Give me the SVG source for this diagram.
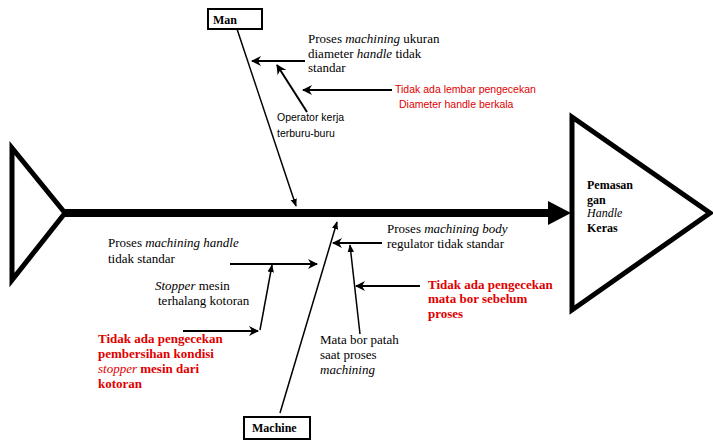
<svg xmlns="http://www.w3.org/2000/svg" width="713" height="441" viewBox="0 0 713 441">
<style>
.s{font-family:"Liberation Serif",serif;font-size:13px;fill:#000}
.ss{font-family:"Liberation Sans",sans-serif;font-size:10.5px;fill:#000}
.r{fill:#e00000}
.b{font-weight:bold}
.i{font-style:italic}
.h{font-size:12px}
.ln{stroke:#000;stroke-width:1.5;fill:none}
.ar{stroke:#000;stroke-width:2;fill:none}
.box{fill:#fff;stroke:#000;stroke-width:2}
</style>
<defs>
<marker id="ah" viewBox="0 0 10 10" refX="9" refY="5" markerWidth="8" markerHeight="8" markerUnits="userSpaceOnUse" orient="auto">
<path d="M0,1 L10,5 L0,9 Z" fill="#000"/>
</marker>
<marker id="ahw" viewBox="0 0 10 10" refX="9" refY="5" markerWidth="12" markerHeight="10" markerUnits="userSpaceOnUse" orient="auto">
<path d="M0,0 L10,5 L0,10 L3,5 Z" fill="#000"/>
</marker>
</defs>
<rect width="713" height="441" fill="#fff"/>
<g id="tail">
<polygon points="12,148 12,280 65,213" fill="none" stroke="#000" stroke-width="5" stroke-linejoin="miter"/>
</g>
<g id="spine">
<line x1="65" y1="213" x2="550" y2="213" stroke="#000" stroke-width="8"/>
<polygon points="548,201 571,213 548,225" fill="#000"/>
</g>
<g id="head">
<polygon points="572,117 710,213 572,310" fill="none" stroke="#000" stroke-width="5"/>
<text class="s b h" x="587" y="189">Pemasan</text>
<text class="s b h" x="587" y="204">gan</text>
<text class="s i h" x="587" y="217">Handle</text>
<text class="s b h" x="587" y="232">Keras</text>
</g>
<g id="man">
<rect class="box" x="208" y="9" width="54" height="20"/>
<text class="s b h" x="213" y="24">Man</text>
</g>
<g id="machine">
<rect class="box" x="244" y="417" width="66" height="22"/>
<text class="s b h" x="252" y="432">Machine</text>
</g>
<g id="connectors">
<line class="ln" x1="237" y1="29" x2="296" y2="206" marker-end="url(#ah)"/>
<line class="ar" x1="305" y1="61" x2="252" y2="61" marker-end="url(#ahw)"/>
<line class="ar" x1="307" y1="112" x2="277" y2="65" marker-end="url(#ahw)"/>
<line class="ar" x1="392" y1="90" x2="303" y2="90" marker-end="url(#ahw)" stroke="#333"/>
<line class="ln" x1="280" y1="413" x2="337" y2="222" marker-end="url(#ah)"/>
<line class="ar" x1="382" y1="243" x2="333" y2="243" marker-end="url(#ahw)"/>
<line class="ln" x1="360" y1="334" x2="350" y2="245" marker-end="url(#ah)"/>
<line class="ar" x1="420" y1="286" x2="356" y2="286" marker-end="url(#ahw)"/>
<line class="ar" x1="230" y1="264" x2="317" y2="264" marker-end="url(#ahw)"/>
<line class="ln" x1="260" y1="330" x2="272" y2="265" marker-end="url(#ah)"/>
<line class="ar" x1="183" y1="331" x2="258" y2="331" marker-end="url(#ahw)"/>
</g>
<g id="c1">
<text class="s" x="308" y="43">Proses <tspan class="i">machining</tspan> ukuran</text>
<text class="s" x="308" y="58">diameter <tspan class="i">handle</tspan> tidak</text>
<text class="s" x="308" y="72">standar</text>
</g>
<g id="c2">
<text class="ss" x="277" y="121">Operator kerja</text>
<text class="ss" x="277" y="137">terburu-buru</text>
</g>
<g id="c3">
<text class="ss r" x="395" y="93">Tidak ada lembar pengecekan</text>
<text class="ss r" x="399" y="108">Diameter handle berkala</text>
</g>
<g id="c4">
<text class="s" x="387" y="233">Proses <tspan class="i">machining body</tspan></text>
<text class="s" x="387" y="248">regulator tidak standar</text>
</g>
<g id="c5">
<text class="s b r" x="428" y="289">Tidak ada pengecekan</text>
<text class="s b r" x="428" y="303">mata bor sebelum</text>
<text class="s b r" x="428" y="318">proses</text>
</g>
<g id="c6">
<text class="s" x="320" y="344">Mata bor patah</text>
<text class="s" x="320" y="359">saat proses</text>
<text class="s i" x="320" y="374">machining</text>
</g>
<g id="c7">
<text class="s" x="108" y="247">Proses <tspan class="i">machining handle</tspan></text>
<text class="s" x="108" y="263">tidak standar</text>
</g>
<g id="c8">
<text class="s" x="155" y="290"><tspan class="i">Stopper</tspan> mesin</text>
<text class="s" x="158" y="305">terhalang kotoran</text>
</g>
<g id="c9">
<text class="s b r" x="98" y="343">Tidak ada pengecekan</text>
<text class="s b r" x="98" y="358">pembersihan kondisi</text>
<text class="s r" x="98" y="373"><tspan class="i">stopper</tspan> <tspan class="b">mesin dari</tspan></text>
<text class="s b r" x="98" y="388">kotoran</text>
</g>
</svg>
